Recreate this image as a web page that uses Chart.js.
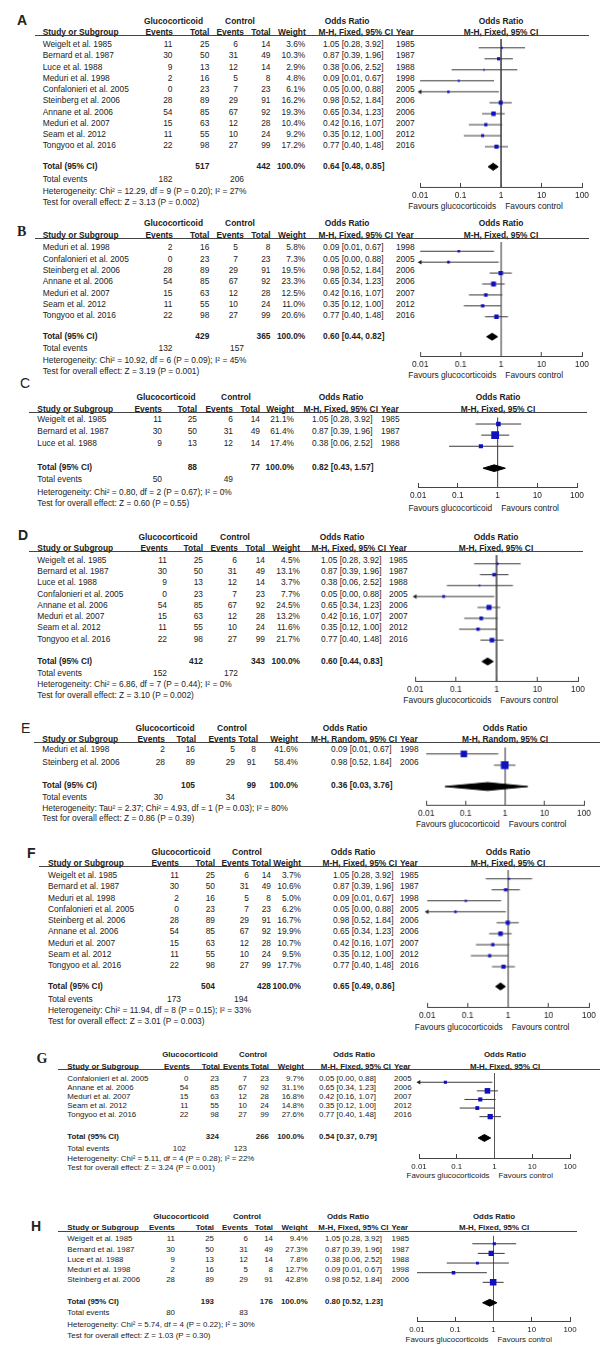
<!DOCTYPE html>
<html>
<head>
<meta charset="utf-8">
<script src="https://cdn.jsdelivr.net/npm/chart.js@4.4.1/dist/chart.umd.min.js"></script>
<style>
body { margin: 0; background: #fff; }
#page { position: relative; width: 602px; height: 1369px; overflow: hidden;
        font-family: "Liberation Sans", Arial, sans-serif; color: #222; }
.t { position: absolute; white-space: nowrap; line-height: 1; }
.b { font-weight: bold; }
.rule { position: absolute; height: 1px; background: #444; }
canvas { position: absolute; }
</style>
</head>
<body>
<div id="page"></div>
<script>
// studies (shared by all subgroup panels)
const studies = ['Weigelt et al. 1985', 'Bernard et al. 1987', 'Luce et al. 1988', 'Meduri et al. 1998',
                 'Confalonieri et al. 2005', 'Steinberg et al. 2006', 'Annane et al. 2006',
                 'Meduri et al. 2007', 'Seam et al. 2012', 'Tongyoo et al. 2016'];
const years = [1985, 1987, 1988, 1998, 2005, 2006, 2006, 2007, 2012, 2016];
const gcEvents = [11, 30, 9, 2, 0, 28, 54, 15, 11, 22];
const gcTotal = [25, 50, 13, 16, 23, 89, 85, 63, 55, 98];
const ctEvents = [6, 31, 12, 5, 7, 29, 67, 12, 10, 27];
const ctTotal = [14, 49, 14, 8, 23, 91, 92, 28, 24, 99];
const orEst = [1.05, 0.87, 0.38, 0.09, 0.05, 0.98, 0.65, 0.42, 0.35, 0.77];
const orLow = [0.28, 0.39, 0.06, 0.01, 0.00, 0.52, 0.34, 0.16, 0.12, 0.40];
const orHigh = [3.92, 1.96, 2.52, 0.67, 0.88, 1.84, 1.23, 1.07, 1.00, 1.48];

// panels
const panelLetters = ['A', 'B', 'C', 'D', 'E', 'F', 'G', 'H'];
const panelStudies = [[0,1,2,3,4,5,6,7,8,9], [3,4,5,6,7,8,9], [0,1,2], [0,1,2,4,6,7,8,9],
                      [3,5], [0,1,3,4,5,6,7,8,9], [4,6,7,8,9], [0,1,2,3,5]];
const panelWeights = [[3.6, 10.3, 2.9, 4.8, 6.1, 16.2, 19.3, 10.4, 9.2, 17.2],
                      [5.8, 7.3, 19.5, 23.3, 12.5, 11.0, 20.6],
                      [21.1, 61.4, 17.4],
                      [4.5, 13.1, 3.7, 7.7, 24.5, 13.2, 11.6, 21.7],
                      [41.6, 58.4],
                      [3.7, 10.6, 5.0, 6.2, 16.7, 19.9, 10.7, 9.5, 17.7],
                      [9.7, 31.1, 16.8, 14.8, 27.6],
                      [9.4, 27.3, 7.8, 12.7, 42.8]];
const pooledOR = [[0.64, 0.48, 0.85], [0.60, 0.44, 0.82], [0.82, 0.43, 1.57], [0.60, 0.44, 0.83],
                  [0.36, 0.03, 3.76], [0.65, 0.49, 0.86], [0.54, 0.37, 0.79], [0.80, 0.52, 1.23]];
const methods = ['Fixed', 'Fixed', 'Fixed', 'Fixed', 'Random', 'Fixed', 'Fixed', 'Fixed'];
const heterogeneity = ['Chi² = 12.29, df = 9 (P = 0.20); I² = 27%',
                       'Chi² = 10.92, df = 6 (P = 0.09); I² = 45%',
                       'Chi² = 0.80, df = 2 (P = 0.67); I² = 0%',
                       'Chi² = 6.86, df = 7 (P = 0.44); I² = 0%',
                       'Tau² = 2.37; Chi² = 4.93, df = 1 (P = 0.03); I² = 80%',
                       'Chi² = 11.94, df = 8 (P = 0.15); I² = 33%',
                       'Chi² = 5.11, df = 4 (P = 0.28); I² = 22%',
                       'Chi² = 5.74, df = 4 (P = 0.22); I² = 30%'];
const overallEffect = ['Z = 3.13 (P = 0.002)', 'Z = 3.19 (P = 0.001)', 'Z = 0.60 (P = 0.55)',
                       'Z = 3.10 (P = 0.002)', 'Z = 0.86 (P = 0.39)', 'Z = 3.01 (P = 0.003)',
                       'Z = 3.24 (P = 0.001)', 'Z = 1.03 (P = 0.30)'];
const favoursLeft = ['Favours glucocorticoids', 'Favours glucocorticoids', 'Favours glucocorticoid',
                     'Favours glucocorticoids', 'Favours glucocorticoid', 'Favours glucocorticoids',
                     'Favours glucocorticoids', 'Favours glucocorticoids'];
const axisTicks = [0.01, 0.1, 1, 10, 100];

// page positions of each panel (px)
const layouts = [
  { lab: [17, 20, 'a'], fs: 8.4, h1: 21, h2: 32, ul: [35, 35, 589], row0: 44, sp: 11.27,
    total: 166, ev: 179, het: 190.7, test: 202.3, nameX: 42.7,
    cEv: [173, 172.5], cTot: [209.3, 209.3], cCev: [244, 238], cCtot: [270.7, 270.5], cW: [305.7, 305.3],
    orX: 323, yearX: 396, glucoC: 173.5, ctrlC: 240, orHdrC: 347, tev: [172.5, 244],
    x01: 420, x100: 582.3, fHdrC: 501, axisY: 186.7, favY: 206 },
  { lab: [17, 231.7, 's'], fs: 8.4, h1: 223.3, h2: 235, ul: [237.7, 35, 589], row0: 247.3, sp: 11.33,
    total: 336, ev: 348, het: 359.7, test: 371.3, nameX: 42.7,
    cEv: [173, 172.5], cTot: [209.3, 209.3], cCev: [244, 238], cCtot: [270.7, 270.5], cW: [305.7, 305.3],
    orX: 323, yearX: 396, glucoC: 173.5, ctrlC: 240, orHdrC: 347, tev: [172.5, 244],
    x01: 420.4, x100: 582.3, fHdrC: 501, axisY: 356, favY: 375 },
  { lab: [20, 383.3, 'n'], fs: 8.4, h1: 396.7, h2: 409, ul: [412.3, 29, 586.5], row0: 419.3, sp: 12,
    total: 467, ev: 479.3, het: 491.7, test: 503.3, nameX: 37.3,
    cEv: [162, 162], cTot: [197, 197], cCev: [233, 233], cCtot: [260, 260], cW: [294, 294],
    orX: 312, yearX: 381, glucoC: 166, ctrlC: 236, orHdrC: 341, tev: [162, 233],
    x01: 417.7, x100: 576.7, fHdrC: 498, axisY: 487.3, favY: 507.7 },
  { lab: [18, 535, 'a'], fs: 8.4, h1: 536.7, h2: 548.3, ul: [551, 29.3, 583], row0: 560, sp: 11.24,
    total: 660.7, ev: 672.7, het: 684, test: 695, nameX: 37.3,
    cEv: [168, 167], cTot: [203, 203], cCev: [238, 237], cCtot: [265, 265], cW: [300, 300],
    orX: 321, yearX: 389, glucoC: 168, ctrlC: 235, orHdrC: 342, tev: [167, 238],
    x01: 415, x100: 577.7, fHdrC: 496, axisY: 680.7, favY: 700 },
  { lab: [21, 728.3, 'n'], fs: 8.4, h1: 728.3, h2: 739.3, ul: [742.3, 34, 600], row0: 749.3, sp: 12.4,
    total: 785, ev: 796.7, het: 807.7, test: 818.3, nameX: 42.3,
    cEv: [165, 165], cTot: [196, 195], cCev: [236, 235], cCtot: [258, 256], cW: [298, 298],
    orX: 331, yearX: 400, glucoC: 165, ctrlC: 232, orHdrC: 345, tev: [163, 235],
    x01: 426, x100: 583.5, fHdrC: 505, axisY: 805, favY: 824 },
  { lab: [27, 853.3, 'a'], fs: 8.4, h1: 851.7, h2: 863.3, ul: [866, 38.5, 600], row0: 875, sp: 11.29,
    total: 985.7, ev: 999, het: 1010, test: 1021, nameX: 48,
    cEv: [179, 179], cTot: [215, 215], cCev: [249, 249], cCtot: [271, 271], cW: [301, 301],
    orX: 333, yearX: 400, glucoC: 181, ctrlC: 247, orHdrC: 353, tev: [181, 248],
    x01: 427, x100: 588.5, fHdrC: 508, axisY: 1006.7, favY: 1027 },
  { lab: [36.5, 1059.3, 's'], fs: 7.9, h1: 1055, h2: 1066.7, ul: [1069.3, 57.7, 600], row0: 1079, sp: 9,
    total: 1137.3, ev: 1148.5, het: 1158.5, test: 1168, nameX: 67.3,
    cEv: [190, 188.5], cTot: [220, 219], cCev: [249, 247], cCtot: [269, 269], cW: [304, 304],
    orX: 319, yearX: 394, glucoC: 190, ctrlC: 253, orHdrC: 354, tev: [186, 247],
    x01: 419, x100: 570, fHdrC: 505, axisY: 1158.3, favY: 1175.7 },
  { lab: [31, 1226, 'a'], fs: 7.9, h1: 1216.7, h2: 1228.3, ul: [1230.7, 57.7, 577], row0: 1239.3, sp: 10.2,
    total: 1301.7, ev: 1313.3, het: 1325, test: 1336, nameX: 67.3,
    cEv: [175, 175], cTot: [214, 214], cCev: [248, 248], cCtot: [273, 273], cW: [307.7, 307.7],
    orX: 325, yearX: 391.5, glucoC: 181, ctrlC: 247, orHdrC: 348, tev: [175, 248],
    x01: 417, x100: 570, fHdrC: 494, axisY: 1321, favY: 1340 }
];

const page = document.getElementById('page');
Chart.defaults.font.family = '"Liberation Sans", Arial, sans-serif';
Chart.defaults.color = '#222';

function put(text, x, y, align, cls, fs) {
  const s = document.createElement('span');
  s.className = 't ' + (cls || '');
  s.textContent = text;
  s.style.fontSize = fs + 'px';
  s.style.left = x + 'px';
  s.style.top = y + 'px';
  const tx = align === 'r' ? '-100%' : align === 'c' ? '-50%' : '0';
  s.style.transform = `translate(${tx}, -50%)`;
  page.appendChild(s);
  return s;
}

function fmtOR(e, l, h) {
  return `${e.toFixed(2)} [${l.toFixed(2)}, ${h.toFixed(2)}]`;
}

function buildPanel(p) {
  const L = layouts[p], ids = panelStudies[p], w = panelWeights[p], pooled = pooledOR[p];
  const fs = L.fs;
  const sum = arr => ids.reduce((s, i) => s + arr[i], 0);

  // panel letter
  const lab = put(panelLetters[p], L.lab[0], L.lab[1], 'l', '', 14);
  if (L.lab[2] === 'a') lab.style.fontWeight = 'bold';
  if (L.lab[2] === 's') { lab.style.fontWeight = 'bold'; lab.style.fontFamily = '"Liberation Serif", serif'; }

  // header rows
  put('Glucocorticoid', L.glucoC, L.h1, 'c', 'b', fs);
  put('Control', L.ctrlC, L.h1, 'c', 'b', fs);
  put('Odds Ratio', L.orHdrC, L.h1, 'c', 'b', fs);
  put('Odds Ratio', L.fHdrC, L.h1, 'c', 'b', fs);
  const mh = 'M-H, ' + methods[p] + ', 95% CI';
  put('Study or Subgroup', L.nameX, L.h2, 'l', 'b', fs);
  put('Events', L.cEv[0], L.h2, 'r', 'b', fs);
  put('Total', L.cTot[0], L.h2, 'r', 'b', fs);
  put('Events', L.cCev[0], L.h2, 'r', 'b', fs);
  put('Total', L.cCtot[0], L.h2, 'r', 'b', fs);
  put('Weight', L.cW[0], L.h2, 'r', 'b', fs);
  put(mh, L.yearX - 3, L.h2, 'r', 'b', fs);
  put('Year', L.yearX, L.h2, 'l', 'b', fs);
  put(mh, L.fHdrC, L.h2, 'c', 'b', fs);

  const rule = document.createElement('div');
  rule.className = 'rule';
  rule.style.left = L.ul[1] + 'px';
  rule.style.top = L.ul[0] + 'px';
  rule.style.width = (L.ul[2] - L.ul[1]) + 'px';
  page.appendChild(rule);

  // study rows
  ids.forEach((s, k) => {
    const y = L.row0 + k * L.sp;
    put(studies[s], L.nameX, y, 'l', '', fs);
    put(String(gcEvents[s]), L.cEv[1], y, 'r', '', fs);
    put(String(gcTotal[s]), L.cTot[1], y, 'r', '', fs);
    put(String(ctEvents[s]), L.cCev[1], y, 'r', '', fs);
    put(String(ctTotal[s]), L.cCtot[1], y, 'r', '', fs);
    put(w[k].toFixed(1) + '%', L.cW[1], y, 'r', '', fs);
    put(fmtOR(orEst[s], orLow[s], orHigh[s]), L.orX, y, 'l', '', fs);
    put(String(years[s]), L.yearX, y, 'l', '', fs);
  });

  // totals
  put('Total (95% CI)', L.nameX, L.total, 'l', 'b', fs);
  put(String(sum(gcTotal)), L.cTot[1], L.total, 'r', 'b', fs);
  put(String(sum(ctTotal)), L.cCtot[1], L.total, 'r', 'b', fs);
  put('100.0%', L.cW[1], L.total, 'r', 'b', fs);
  put(fmtOR(pooled[0], pooled[1], pooled[2]), L.orX, L.total, 'l', 'b', fs);
  put('Total events', L.nameX, L.ev, 'l', '', fs);
  put(String(sum(gcEvents)), L.tev[0], L.ev, 'r', '', fs);
  put(String(sum(ctEvents)), L.tev[1], L.ev, 'r', '', fs);
  put('Heterogeneity: ' + heterogeneity[p], L.nameX, L.het, 'l', '', fs);
  put('Test for overall effect: ' + overallEffect[p], L.nameX, L.test, 'l', '', fs);

  // favours labels
  const x1 = (L.x01 + L.x100) / 2;
  put(favoursLeft[p], x1 - 5, L.favY, 'r', '', fs);
  put('Favours control', x1 + 4, L.favY, 'l', '', fs);

  // forest plot
  const PAD = 16, AXH = 16;
  const W = L.x100 - L.x01 + 2 * PAD, H = L.axisY - L.ul[0] + AXH;
  const cv = document.createElement('canvas');
  cv.width = W; cv.height = H;
  cv.style.left = (L.x01 - PAD) + 'px';
  cv.style.top = L.ul[0] + 'px';
  cv.style.width = W + 'px';
  cv.style.height = H + 'px';
  page.appendChild(cv);

  const yMin = (L.ul[0] - L.row0) / L.sp, yMax = (L.axisY - L.row0) / L.sp;
  const tY = (L.total - L.row0) / L.sp;
  const dh = (p === 4 ? 4.3 : 3.6) / L.sp;

  const datasets = [];
  datasets.push({
    data: ids.map((s, k) => ({ x: orEst[s], y: k })),
    pointStyle: 'rect',
    pointRadius: w.map(v => Math.max(1.3, Math.sqrt(v)) / 1.414),
    backgroundColor: '#1010c0', borderWidth: 0, showLine: false
  });
  datasets.push({
    data: [{ x: pooled[1], y: tY }, { x: pooled[0], y: tY - dh }, { x: pooled[2], y: tY },
           { x: pooled[0], y: tY + dh }, { x: pooled[1], y: tY }],
    showLine: true, fill: 'shape', backgroundColor: '#000', borderColor: '#000',
    borderWidth: 1, pointRadius: 0, tension: 0
  });
  ids.forEach((s, k) => {
    const clipped = orLow[s] < axisTicks[0];
    datasets.push({
      data: [{ x: Math.max(orLow[s], axisTicks[0]), y: k }, { x: orHigh[s], y: k }],
      showLine: true, borderColor: '#3a3a3a', borderWidth: 1,
      pointRadius: [clipped ? 2.6 : 0, 0], pointStyle: 'triangle', pointRotation: -90,
      backgroundColor: '#222', pointBorderWidth: 0, clip: false
    });
  });
  datasets.push({
    data: [{ x: 1, y: yMin }, { x: 1, y: yMax }],
    showLine: true, borderColor: '#555', borderWidth: 1, pointRadius: 0
  });

  new Chart(cv, {
    type: 'scatter',
    data: { datasets },
    options: {
      responsive: false, animation: false, devicePixelRatio: 1, events: [],
      layout: { padding: { left: PAD, right: PAD, top: 0, bottom: 0 } },
      plugins: { legend: { display: false }, tooltip: { enabled: false } },
      scales: {
        x: {
          type: 'logarithmic', min: 0.01, max: 100, position: 'bottom',
          afterBuildTicks: s => { s.ticks = axisTicks.map(v => ({ value: v })); },
          afterFit: s => { s.height = AXH; },
          ticks: { autoSkip: false, maxRotation: 0, padding: 8, color: '#222',
                   font: { size: fs }, callback: v => String(v) },
          // tick marks point up into the plot, as in the original
          grid: { display: true, drawOnChartArea: false, drawTicks: true, tickLength: -4, color: '#444' },
          border: { display: true, color: '#444', width: 1 }
        },
        y: { type: 'linear', display: false, min: yMin, max: yMax, reverse: true }
      }
    }
  });
}

panelLetters.forEach((_, p) => buildPanel(p));
</script>
</body>
</html>
